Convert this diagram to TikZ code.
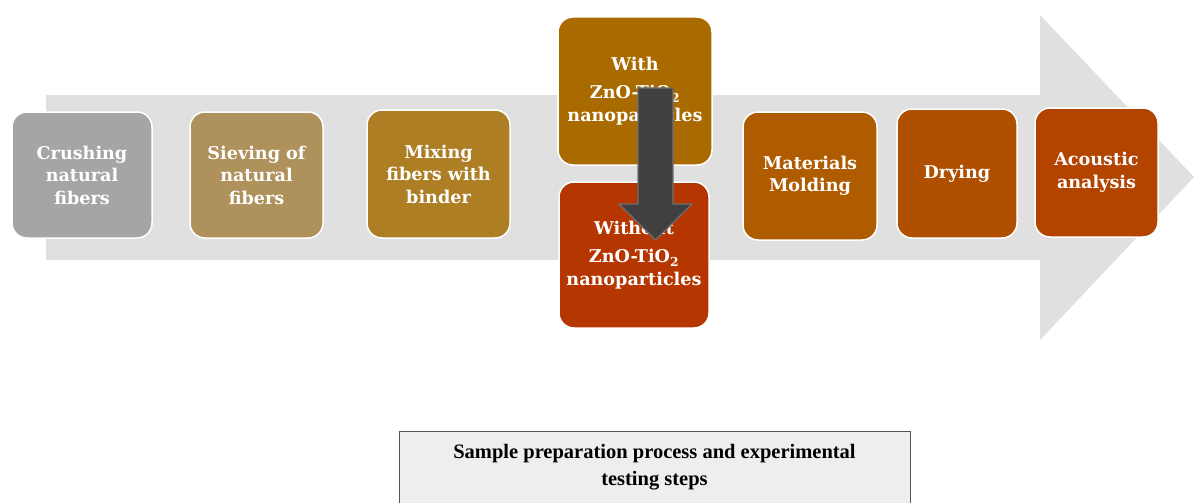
\documentclass[tikz,border=0pt]{standalone}
\usepackage{fontspec}
\setmainfont{Liberation Serif}
\newfontfamily\boxfont{DejaVu Serif}
\usetikzlibrary{positioning}
\definecolor{bigarrow}{HTML}{E0E0E0}
\definecolor{cA}{HTML}{A5A5A5}
\definecolor{cB}{HTML}{AF915C}
\definecolor{cC}{HTML}{AE7E24}
\definecolor{cD}{HTML}{A96B00}
\definecolor{cE}{HTML}{B53600}
\definecolor{cF}{HTML}{AF5C00}
\definecolor{cG}{HTML}{B04F00}
\definecolor{cH}{HTML}{B24400}
\definecolor{darkarrow}{HTML}{404040}
\definecolor{darkborder}{HTML}{707070}
\definecolor{capfill}{HTML}{EEEEEE}
\definecolor{capborder}{HTML}{555555}
\tikzset{
  stepbox/.style={draw=white, line width=1.5pt, rounded corners=15pt, inner sep=0pt,
    align=center, text=white, font=\boxfont\bfseries\fontsize{17.6}{22.5}\selectfont},
  captionbox/.style={draw=capborder, fill=capfill, line width=1pt},
  captiontext/.style={font=\bfseries\fontsize{20.5}{27}\selectfont, align=center},
}
\begin{document}
\begin{tikzpicture}[x=1pt,y=-1pt]
\useasboundingbox (0,0) rectangle (1194,503);
% big grey process arrow
\fill[bigarrow] (46,95) -- (1040,95) -- (1040,15) -- (1194,177) -- (1040,340) -- (1040,260) -- (46,260) -- cycle;
% steps
\node[stepbox, fill=cA, minimum width=140pt, minimum height=126pt] (crush) at (82,175) {Crushing\\natural\\fibers};
\node[stepbox, fill=cB, minimum width=133pt, minimum height=126pt] (sieve) at (256.5,175) {Sieving of\\natural\\fibers};
\node[stepbox, fill=cC, minimum width=143pt, minimum height=128pt] (mix) at (438.5,174) {Mixing\\fibers with\\binder};
\node[stepbox, fill=cD, minimum width=154pt, minimum height=148pt] (with) at (635,91) {With\\[6pt]ZnO-TiO\textsubscript{2}\\nanoparticles};
\node[stepbox, fill=cE, minimum width=150pt, minimum height=146pt] (without) at (634,255) {Without\\[6pt]ZnO-TiO\textsubscript{2}\\nanoparticles};
\node[stepbox, fill=cF, minimum width=134pt, minimum height=128pt] (mold) at (810,176) {Materials\\Molding};
\node[stepbox, fill=cG, minimum width=120pt, minimum height=129pt] (dry) at (957,173.5) {Drying};
\node[stepbox, fill=cH, minimum width=123pt, minimum height=129pt] (acoustic) at (1096.5,172.5) {Acoustic\\analysis};
% dark down arrow from "With" to "Without"
\coordinate (tip) at (655.5,240);
\draw[darkborder, fill=darkarrow, line width=1.2pt, line join=miter]
  (638,88) -- (673,88) -- (673,204) -- (692,204) -- (tip) -- (619,204) -- (638,204) -- cycle;
% caption
\draw[captionbox] (399,431) rectangle (910,506);
\node[captiontext] (caption) at (654.5,467) {Sample preparation process and experimental\\testing steps};
\end{tikzpicture}
\end{document}
